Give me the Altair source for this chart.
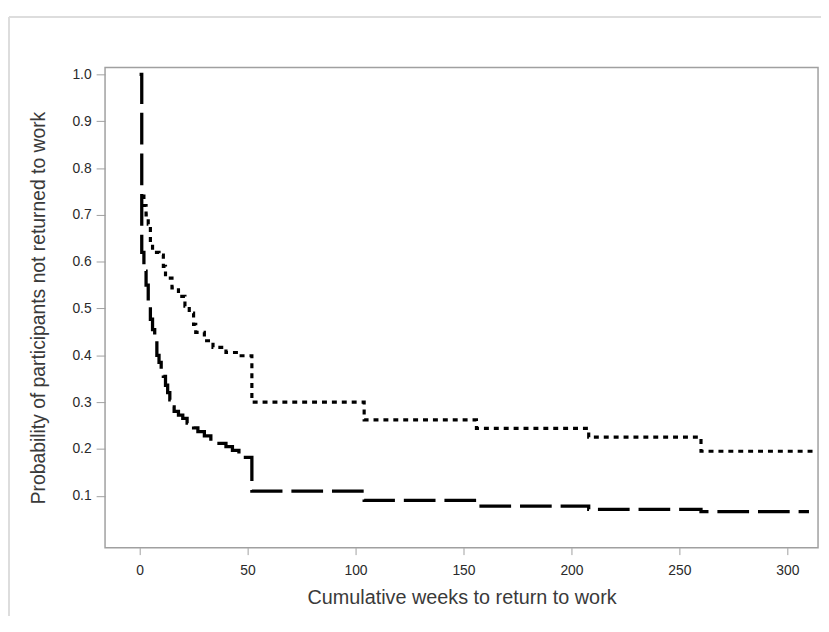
import altair as alt
import pandas as pd

# Dashed curve (steeper decline)
a_weeks = [0, 1, 2, 3, 4, 5, 6, 7, 8, 9, 10, 11, 12, 13, 14, 15, 16, 18, 20, 22, 25, 27, 30, 33, 36, 40, 43, 46, 49, 52, 104, 156, 208, 260, 310]
a_prob = [1.0, 0.62, 0.58, 0.55, 0.51, 0.477, 0.455, 0.43, 0.40, 0.385, 0.37, 0.355, 0.336, 0.32, 0.305, 0.29, 0.28, 0.272, 0.265, 0.255, 0.245, 0.237, 0.228, 0.216, 0.212, 0.205, 0.197, 0.19, 0.182, 0.11, 0.09, 0.078, 0.071, 0.066, 0.066]

# Dotted curve
b_weeks = [1, 2, 3, 4, 5, 6, 9, 11, 12, 15, 18, 21, 23, 25, 26, 30, 34, 40, 46, 52, 104, 156, 208, 260, 312]
b_prob = [0.74, 0.72, 0.70, 0.68, 0.64, 0.62, 0.614, 0.59, 0.565, 0.544, 0.526, 0.505, 0.49, 0.466, 0.449, 0.431, 0.417, 0.406, 0.399, 0.30, 0.262, 0.244, 0.225, 0.195, 0.195]

x_ticks = [0, 50, 100, 150, 200, 250, 300]
y_ticks = [0.1, 0.2, 0.3, 0.4, 0.5, 0.6, 0.7, 0.8, 0.9, 1.0]

df_a = pd.DataFrame({"weeks": a_weeks, "prob": a_prob})
df_b = pd.DataFrame({"weeks": b_weeks, "prob": b_prob})

FONT = "Liberation Sans"

xenc = alt.X(
    "weeks:Q",
    scale=alt.Scale(domain=[-16, 314.2], nice=False, zero=False),
    axis=alt.Axis(
        values=x_ticks, title="Cumulative weeks to return to work", grid=False,
        domain=False, tickSize=7, tickColor="#a0a0a0", labelPadding=9,
        labelFontSize=14, labelColor="#2a2a2a", titleFontSize=20,
        titleFontWeight="normal", titleColor="#3a3a3a", titlePadding=10,
        labelFont=FONT, titleFont=FONT,
    ),
)
yenc = alt.Y(
    "prob:Q",
    scale=alt.Scale(domain=[-0.011, 1.015], nice=False, zero=False),
    axis=alt.Axis(
        values=y_ticks, format=".1f", title="Probability of participants not returned to work",
        grid=False, domain=False, tickSize=9, tickColor="#a0a0a0", labelPadding=5,
        labelFontSize=14, labelColor="#2a2a2a", titleFontSize=19.5,
        titleFontWeight="normal", titleColor="#3a3a3a", titlePadding=24,
        labelFont=FONT, titleFont=FONT,
    ),
)

line_a = alt.Chart(df_a).mark_line(
    interpolate="step-after", color="black", strokeWidth=3.3, strokeDash=[32, 9], strokeCap="butt"
).encode(x=xenc, y=yenc)

line_b = alt.Chart(df_b).mark_line(
    interpolate="step-after", color="black", strokeWidth=3.2, strokeDash=[5, 5], strokeCap="butt"
).encode(x="weeks:Q", y="prob:Q")

# light outer frame of the figure
frame_top = alt.Chart(df_a).mark_rule(color="#dddddd", strokeWidth=1.5).encode(
    x=alt.value(-97), x2=alt.value(740), y=alt.value(-51)
)
frame_left = alt.Chart(df_a).mark_rule(color="#dddddd", strokeWidth=1.5).encode(
    x=alt.value(-97), y=alt.value(-51), y2=alt.value(600)
)

chart = alt.layer(frame_top, frame_left, line_a, line_b).properties(
    width=720, height=485,
    autosize=alt.AutoSizeParams(type="none"),
    padding={"left": 98, "top": 57, "right": 3, "bottom": 66},
    background="white",
).configure_view(stroke="#a0a0a0", strokeWidth=1.5)

chart.save("out.html", embed_options={"renderer": "svg", "actions": False})
